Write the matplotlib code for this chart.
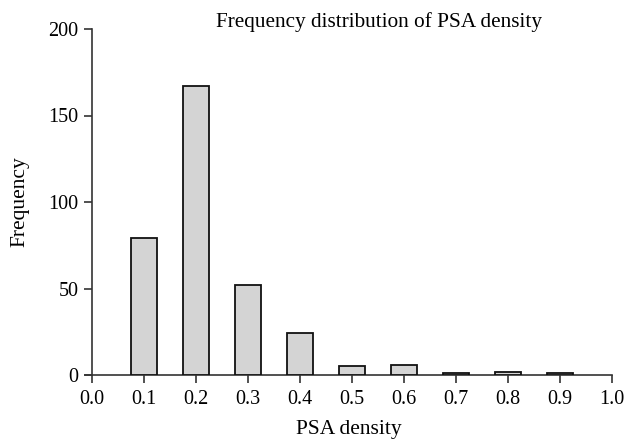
import matplotlib
matplotlib.use("Agg")
import matplotlib.pyplot as plt

bins = [0.1, 0.2, 0.3, 0.4, 0.5, 0.6, 0.7, 0.8, 0.9]
freq = [79, 167, 52, 24, 5, 6, 1, 2, 1]
xticks = [0.0, 0.1, 0.2, 0.3, 0.4, 0.5, 0.6, 0.7, 0.8, 0.9, 1.0]
yticks = [0, 50, 100, 150, 200]

plt.rcParams['font.family'] = ['Liberation Serif', 'DejaVu Serif']
fig = plt.figure(figsize=(6.26, 4.45), dpi=100)
ax = fig.add_axes([85/626, 1-375/445, (612-85)/626, (375-29)/445])
ax.bar(bins, freq, width=0.05, color='#d4d4d4', edgecolor='#111111', linewidth=1.3, zorder=3)
ax.set_xlim(-0.0129, 1.0)
ax.set_ylim(0, 200)
ax.spines['left'].set_bounds(0, 200)
ax.spines['left'].set_position(('data', 0.0))
ax.spines['top'].set_visible(False)
ax.spines['right'].set_visible(False)
for s in ['left', 'bottom']:
    ax.spines[s].set_color('#333333')
    ax.spines[s].set_linewidth(1.2)
ax.set_xticks(xticks)
ax.set_xticklabels([f"{t:.1f}" for t in xticks])
ax.set_yticks(yticks)
ax.tick_params(axis='both', labelsize=14.5, color='#333333', width=1.2, length=6)
ax.tick_params(axis='x', pad=5)
ax.set_xlabel('PSA density', fontsize=15.5, labelpad=8)
fig.text(20/626, 1-202/445, 'Frequency', rotation=90, ha='center', va='center', fontsize=15.5)
fig.text(379/626, 1-27/445, 'Frequency distribution of PSA density', ha='center', va='baseline', fontsize=15.3)
fig.savefig('out.png', dpi=100)
